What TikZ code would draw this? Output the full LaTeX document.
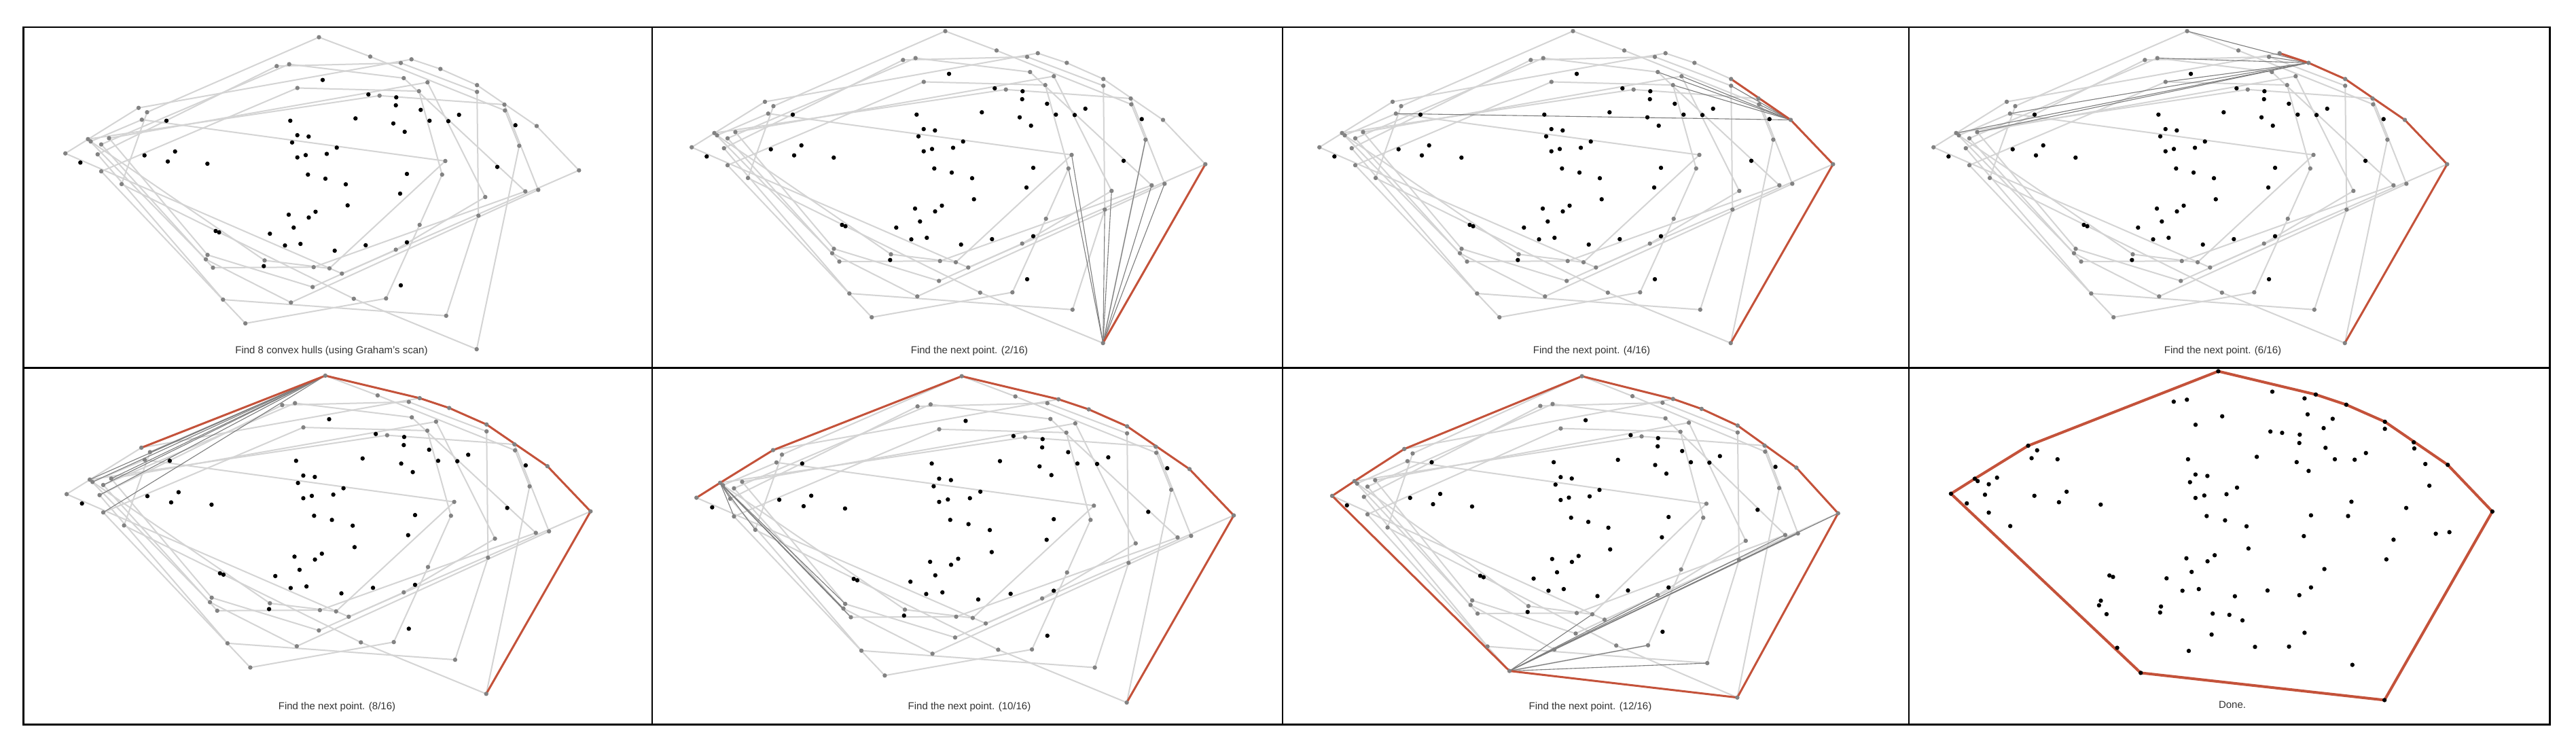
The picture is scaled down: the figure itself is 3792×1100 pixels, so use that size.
\documentclass[tikz,border=0pt]{standalone}
\usepackage{fontspec}
\setmainfont{Liberation Sans}
\definecolor{hullgray}{RGB}{212,212,212}
\definecolor{fangray}{RGB}{125,125,125}
\definecolor{vtxgray}{RGB}{130,130,130}
\definecolor{redhull}{RGB}{196,82,58}
\def\vtx{K/96.2/225.8, E/204/158.8, F/216.5/165.2, G/208.8/176.2, Hu/129.5/204.8, Hl/133.5/208.2, I/149/212.6, J/160.5/203.4, L/143.7/227.2, M/149/252.2, N/179/271, A/469.5/54.8, B/407.3/97.3, C/425.7/94.5, D/437.8/129.5, a/545/83.3, b/590/92.7, c/605.7/87.3, d/648.3/101.5, e/594.3/115, f/629.3/121.2, i/616.7/134.2, j/558.7/140.8, g/702.2/125.3, h/702.2/135.2, l/742.5/154, m/743.3/162.6, n/790/185.5, o/764.3/214.6, p/655.5/237, q/852.3/250.7, r/650.8/257, s/792.3/279.5, t/773.3/281.7, u/714.3/290, v/704.3/317.5, w/617.7/331, x/582.7/367.5, y/485/395, z/503.3/402.7, aa/520.8/439.7, bb/568.3/439.3, cc/656.8/464.8, dd/701.7/514, U/428.3/445.3, S/460.2/422.5, R/461.7/393.2, Q/313.5/394, Ou/305.5/375.2, Ol/303/381.7, P/389.5/383.3, T/328.3/441, V/361.2/476}
\def\inner{t1/475/117.7, t2/245/177.7, t3/427.3/177.7, t4/212.7/228.7, t5/257.7/223, t6/247/237.7, t7/305.3/241, t8/118.3/239.3, t9/437.7/199, t10/454.3/201, t11/430/209.7, t12/437.7/231.7, t13/450/228.3, t14/481/226.5, t15/453.3/257, t16/479/263, t17/425/316, t18/464.5/311.7, t19/454.5/320.2, t20/432.3/335, t21/317.5/340, t22/322.5/342, t23/397.3/344, t24/419.5/361.3, t25/442.3/359, t26/388.3/391.7, t27/542.3/139, t28/583.3/143.3, t29/582.7/155, t30/619.3/161.7, t31/675.7/169, t32/523.3/174.3, t33/632.3/177.7, t34/660/178.3, t35/579/181.7, t36/595.7/194, t37/758.7/184.3, t38/495.7/217.3, t39/732/245.7, t40/599/256, t41/509/271.3, t42/589/285, t43/511.7/302.3, t44/538.3/361, t45/599/356.7, t46/492.7/369, t47/590/420}
\newcommand\mkpanel[5]{%
  \foreach \nm/\px/\py in \vtx {\coordinate (#1-\nm) at ({#2+#4*\px},{#3+#5*\py});}%
  \foreach \nm/\px/\py in \inner {\coordinate (#1-\nm) at ({#2+#4*\px},{#3+#5*\py});}}
\newcommand\cpoly[4]{\draw[#1] (#2-#3) \foreach \v in {#4} { -- (#2-\v) } -- cycle;}
\newcommand\opoly[4]{\draw[#1] (#2-#3) \foreach \v in {#4} { -- (#2-\v) };}
\newcommand\hulls[1]{%
  \cpoly{hull}{#1}{K}{E,c,d,g,n,q,z}%
  \cpoly{hull}{#1}{N}{F,A,a,m,o,dd,aa}%
  \cpoly{hull}{#1}{L}{B,b,h,v,cc,T}%
  \cpoly{hull}{#1}{M}{D,i,r,w,bb,V}%
  \cpoly{hull}{#1}{I}{C,e,t,R,Q}%
  \cpoly{hull}{#1}{Hu}{j,l,s,U,Ol}%
  \cpoly{hull}{#1}{J}{f,u,x,S,Ou}%
  \cpoly{hull}{#1}{Hl}{G,p,y,P}}
\newcommand\fan[3]{\foreach \v in {#3} {\draw[fanline] (#1-#2) -- (#1-\v);}}
\newcommand\drawpts[2]{%
  \foreach \nm/\px/\py in \vtx {\fill[#2] (#1-\nm) circle (3.2);}%
  \foreach \nm/\px/\py in \inner {\fill[black] (#1-\nm) circle (3.2);}}
\begin{document}
\begin{tikzpicture}[x=1pt,y=-1pt,
  hull/.style={draw=hullgray, line width=2pt, line join=round},
  fanline/.style={draw=fangray, line width=1.1pt},
  redline/.style={draw=redhull, line width=3pt, line join=round, line cap=round},
  redthick/.style={draw=redhull, line width=4pt, line join=round},
  frame/.style={draw=black, line width=2.5pt},
  lbl/.style={font=\fontsize{15}{18}\selectfont, text=black!80, inner sep=0pt}]
\useasboundingbox (0,0) rectangle (3792,1100);
\fill[white] (0,0) rectangle (3792,1100);
% panel coordinate systems
\mkpanel{P1}{0}{0}{1}{1}
\mkpanel{P2}{922}{-9}{1}{1}
\mkpanel{P3}{1846}{-9}{1}{1}
\mkpanel{P4}{2750}{-9}{1}{1}
\mkpanel{P5}{0}{497}{1.02}{1.02}
\mkpanel{P6}{924.6}{496.4}{1.046}{1.046}
\mkpanel{P7}{1866.2}{497.3}{0.985}{1.03}
\mkpanel{P8}{2770.5}{488.7}{1.054}{1.054}
% gray hulls
\hulls{P1}\hulls{P2}\hulls{P3}\hulls{P4}\hulls{P5}\hulls{P6}\hulls{P7}
% tangent fans
\fan{P2}{dd}{q,o,v,r,t,s,u,p}
\fan{P3}{n}{g,m,h,i,e,l,f,G}
\fan{P4}{d}{c,A,b,D,C,Hu,J,G}
\fan{P5}{A}{E,F,L,M,I,Hu,J,Hl}
\fan{P6}{Hu}{K,N,L,M,Q,Ol,Ou,Hl}
\fan{P7}{V}{dd,q,cc,bb,t,s,x,y}
% red hull progress
\opoly{redline}{P2}{dd}{q}
\opoly{redline}{P3}{dd}{q,n,g}
\opoly{redline}{P4}{dd}{q,n,g,d,c}
\opoly{redline}{P5}{dd}{q,n,g,d,c,A,E}
\opoly{redline}{P6}{dd}{q,n,g,d,c,A,E,Hu,K}
\opoly{redline}{P7}{dd}{q,n,g,d,c,A,E,Hu,K,V,dd}
\cpoly{redthick}{P8}{dd}{q,n,g,d,c,A,E,Hu,K,V}
% points
\drawpts{P1}{vtxgray}\drawpts{P2}{vtxgray}\drawpts{P3}{vtxgray}\drawpts{P4}{vtxgray}
\drawpts{P5}{vtxgray}\drawpts{P6}{vtxgray}\drawpts{P7}{vtxgray}\drawpts{P8}{black}
% labels
\node[lbl] (L1) at (488,517) {Find 8 convex hulls (using Graham's scan)};
\node[lbl] (L2) at (1427,517) {Find the next point. (2/16)};
\node[lbl] (L3) at (2343,517) {Find the next point. (4/16)};
\node[lbl] (L4) at (3272,517) {Find the next point. (6/16)};
\node[lbl] (L5) at (496,1041) {Find the next point. (8/16)};
\node[lbl] (L6) at (1427,1041) {Find the next point. (10/16)};
\node[lbl] (L7) at (2341,1041) {Find the next point. (12/16)};
\node[lbl] (L8) at (3286,1037) {Done.};
% frame grid
\draw[frame] (34.3,40) rectangle (3753.5,1066.5);
\draw[frame] (960,40) -- (960,1066.5);
\draw[frame] (1888,40) -- (1888,1066.5);
\draw[frame] (2810,40) -- (2810,1066.5);
\draw[frame] (34.3,541.5) -- (3753.5,541.5);
\end{tikzpicture}
\end{document}
